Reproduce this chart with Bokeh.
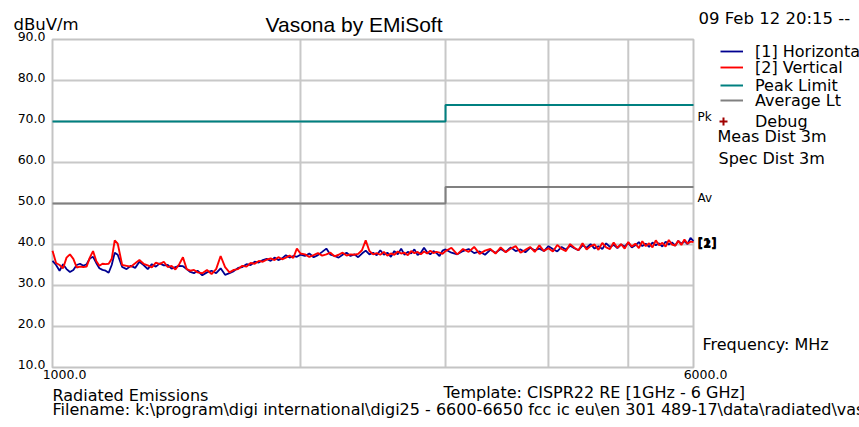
import math
from bokeh.plotting import figure
from bokeh.models import Range1d, Label, Legend, LegendItem
from bokeh.core.properties import value
from bokeh.embed import file_html
from bokeh.resources import INLINE

# ---------------- data ----------------
freq_low = [1000, 1010, 1020, 1030, 1040, 1050, 1060, 1070, 1080, 1090, 1100,
            1110, 1120, 1130, 1140, 1150, 1160, 1170, 1180, 1190, 1200,
            1215, 1230, 1245, 1260, 1275, 1290, 1305, 1320, 1335, 1350,
            1365, 1380, 1395, 1410, 1425, 1440, 1455, 1470, 1485, 1500,
            1520, 1540, 1560, 1580, 1600, 1620, 1640, 1660, 1680, 1700,
            1720, 1740, 1760, 1780, 1800, 1820, 1840, 1860, 1880, 1900,
            1920, 1940, 1960, 1980, 2000]
horiz_low = [36.0, 35.0, 33.6, 35.2, 34.0, 33.3, 33.8, 35.0, 35.3, 34.8, 35.2,
             36.6, 37.0, 35.5, 34.2, 33.8, 33.6, 33.1, 35.0, 38.0, 37.5,
             34.5, 34.0, 34.8, 34.3, 35.8, 35.0, 34.0, 35.2, 34.6, 35.4,
             34.9, 35.0, 34.1, 34.5, 34.8, 34.7, 34.0, 33.3, 33.0, 33.6,
             32.5, 33.2, 33.6, 33.0, 34.2, 32.6, 33.0, 33.5, 34.3, 34.5,
             35.2, 35.0, 35.8, 35.6, 36.2, 36.5, 36.0, 36.8, 36.2, 36.6,
             37.4, 36.8, 37.2, 37.0, 37.5]
vert_low = [38.5, 35.5, 35.0, 34.2, 36.8, 37.6, 36.5, 34.4, 34.6, 34.5, 34.6,
            36.8, 38.4, 36.0, 34.8, 35.3, 35.2, 35.3, 36.5, 41.0, 40.2,
            35.0, 34.8, 34.6, 35.4, 36.2, 35.3, 34.9, 34.4, 35.6, 35.2,
            35.8, 34.5, 34.8, 33.9, 35.2, 36.9, 34.0, 33.6, 33.8, 33.2,
            33.0, 33.8, 32.8, 34.0, 37.2, 34.5, 33.2, 33.8, 34.0, 34.8,
            34.6, 35.5, 35.3, 36.0, 35.8, 36.3, 36.6, 36.2, 36.9, 36.4,
            36.8, 37.3, 36.7, 39.0, 37.8]

freq_high = [2025, 2050, 2075, 2100, 2125, 2150, 2175, 2200, 2225, 2250,
             2275, 2300, 2325, 2350, 2375, 2400, 2425, 2450, 2475, 2500,
             2525, 2550, 2575, 2600, 2625, 2650, 2675, 2700, 2725, 2750,
             2775, 2800, 2825, 2850, 2875, 2900, 2925, 2950, 2975, 3000,
             3050, 3100, 3150, 3200, 3250, 3300, 3350, 3400, 3450, 3500,
             3550, 3600, 3650, 3700, 3750, 3800, 3850, 3900, 3950, 4000,
             4050, 4100, 4150, 4200, 4250, 4300, 4350, 4400, 4450, 4500,
             4550, 4600, 4650, 4700, 4750, 4800, 4850, 4900, 4950, 5000,
             5050, 5100, 5150, 5200, 5250, 5300, 5350, 5400, 5450, 5500,
             5550, 5600, 5650, 5700, 5750, 5800, 5850, 5900, 5950, 6000]
horiz_high = [37.2, 37.8, 36.9, 37.4, 38.2, 39.0, 37.5, 37.2, 36.8, 37.5,
              38.0, 37.2, 37.6, 36.9, 37.8, 38.5, 37.6, 38.0, 37.4, 38.6,
              37.5, 38.0, 37.0, 38.4, 37.6, 39.0, 37.5, 38.2, 37.8, 38.8,
              37.4, 38.0, 39.2, 38.1, 37.6, 38.4, 37.9, 37.2, 38.5, 38.8,
              38.0, 37.6, 38.4, 38.9, 37.9, 38.3, 37.5, 38.7, 38.0, 38.9,
              38.2, 39.3, 38.4, 38.8, 38.1, 39.2, 38.6, 39.0, 38.4, 39.6,
              38.9, 38.3, 39.4, 38.8, 39.7, 39.1, 38.6, 39.8, 39.2, 40.1,
              39.0, 39.6, 38.9, 40.3, 39.4, 39.9, 39.1, 40.0, 39.5, 40.4,
              39.3, 39.8, 40.6, 39.6, 40.2, 39.4, 40.5, 39.8, 40.3, 39.5,
              40.7, 40.0, 40.5, 39.7, 40.9, 40.2, 40.8, 40.1, 41.6, 40.8]
vert_high = [37.6, 37.0, 37.4, 37.9, 37.3, 37.6, 38.0, 37.1, 37.5, 38.0,
             37.3, 37.6, 37.5, 37.7, 38.6, 41.0, 38.4, 37.6, 37.9, 37.5,
             38.2, 37.3, 37.8, 37.5, 38.3, 37.8, 38.0, 37.4, 38.4, 37.9,
             38.2, 37.6, 38.3, 37.8, 38.5, 37.9, 38.2, 38.0, 37.7, 38.4,
             39.2, 37.6, 38.9, 38.2, 39.4, 37.7, 38.5, 38.9, 37.8, 39.3,
             38.1, 39.0, 39.6, 38.0, 38.7, 39.4, 38.2, 39.8, 38.4, 39.1,
             38.3, 39.9, 38.9, 38.4, 40.1, 39.2, 38.6, 40.3, 38.8, 39.6,
             40.0, 38.7, 40.4, 39.3, 38.9, 40.5, 39.2, 40.1, 39.0, 40.6,
             39.5, 40.2, 39.1, 40.8, 39.6, 40.3, 39.3, 41.0, 39.8, 40.4,
             39.5, 41.1, 40.0, 39.7, 40.9, 39.9, 41.2, 40.2, 40.7, 40.6]

freq_mhz = freq_low + freq_high
horizontal = horiz_low + horiz_high
vertical = vert_low + vert_high

limit_freq = [1000, 3000, 3000, 6000]
peak_limit = [70, 70, 74, 74]
average_limit = [50, 50, 54, 54]

y_ticks = [10, 20, 30, 40, 50, 60, 70, 80, 90]
y_tick_labels = ["10.0", "20.0", "30.0", "40.0", "50.0", "60.0", "70.0", "80.0", "90.0"]
x_ticks = [1000, 6000]
x_tick_labels = ["1000.0", "6000.0"]
x_grid = [2000, 3000, 4000, 5000]
y_grid = [20, 30, 40, 50, 60, 70, 80]

# ---------------- layout (pixels) ----------------
W, H = 859, 427
BOX_L, BOX_R, BOX_T, BOX_B = 52, 693, 39, 367
x_min, x_max = x_ticks[0], x_ticks[-1]
y_min, y_max = y_ticks[0], y_ticks[-1]
dec_px = (math.log10(x_max) - math.log10(x_min)) / (BOX_R - BOX_L)
u_px = (y_max - y_min) / (BOX_B - BOX_T)
x_start = 10 ** (math.log10(x_min) - BOX_L * dec_px)
x_end = 10 ** (math.log10(x_max) + (W - BOX_R) * dec_px)
y_start = y_min - (H - BOX_B) * u_px
y_end = y_max + BOX_T * u_px

FONT = "DejaVu Sans"
p = figure(width=W, height=H, output_backend="svg", toolbar_location=None,
           x_axis_type="log", x_axis_location=None, y_axis_location=None,
           x_range=Range1d(x_start, x_end), y_range=Range1d(y_start, y_end),
           min_border=0)
p.outline_line_color = None
p.xgrid.visible = False
p.ygrid.visible = False

GRID = "#c8c8c8"
p.segment(x0=x_grid, y0=[y_min] * len(x_grid), x1=x_grid, y1=[y_max] * len(x_grid),
          line_color=GRID, line_width=2)
p.segment(x0=[x_min] * len(y_grid), y0=y_grid, x1=[x_max] * len(y_grid), y1=y_grid,
          line_color=GRID, line_width=2)
p.quad(left=[x_min], right=[x_max], bottom=[y_min], top=[y_max],
       fill_color=None, line_color="#c4c4c4", line_width=2)

r_peak = p.line(limit_freq, peak_limit, line_color="#008080", line_width=2)
r_avg = p.line(limit_freq, average_limit, line_color="#808080", line_width=2)
r_h = p.line(freq_mhz, horizontal, line_color="#000090", line_width=1.8)
r_v = p.line(freq_mhz, vertical, line_color="#ff0000", line_width=1.9)
r_dbg = p.scatter(x=[x_min], y=[float("nan")], marker="cross", size=9,
                  line_color="#a00000", line_width=2)

# tick labels
p.text(x=[x_min] * len(y_ticks), y=y_ticks, text=y_tick_labels,
       text_font=value(FONT), text_font_size="12.5px", text_align="right",
       text_baseline="middle", x_offset=-7, y_offset=-3, text_color="black")
p.text(x=x_ticks, y=[y_min] * len(x_ticks), text=x_tick_labels,
       text_font=value(FONT), text_font_size="12.5px", text_align="center",
       text_baseline="top", x_offset=12, y_offset=2, text_color="black")

# limit tags and trace tags at the right end
p.text(x=[limit_freq[-1]], y=[peak_limit[-1]], text=["Pk"], text_font=value(FONT),
       text_font_size="12px", text_baseline="top", x_offset=4, y_offset=5)
p.text(x=[limit_freq[-1]], y=[average_limit[-1]], text=["Av"], text_font=value(FONT),
       text_font_size="12px", text_baseline="top", x_offset=4, y_offset=4)
p.text(x=[freq_mhz[-1], freq_mhz[-1]], y=[horizontal[-1], vertical[-1]],
       text=["[1]", "[2]"], text_font=value(FONT), text_font_size="12px",
       text_baseline="middle", x_offset=4, y_offset=2, text_font_style="bold")

# legend: one single-row legend per entry so that each row sits where the reference has it
legend_entries = [("[1] Horizontal", r_h), ("[2] Vertical", r_v), ("Peak Limit", r_peak),
                  ("Average Lt", r_avg), ("Debug", r_dbg)]
legend_rows_px = [51, 67, 85, 100, 121]   # row centres, pixels from the top
for (label, rend), row in zip(legend_entries, legend_rows_px):
    if label == "Debug":
        gx, gw, gh = 713, 20, 20
    else:
        gx, gw, gh = 720, 23, 16
    row_h = max(gh, 19)
    lg = Legend(items=[LegendItem(label=label, renderers=[rend])],
                location=(gx, H - row - row_h / 2), glyph_width=gw, glyph_height=gh,
                label_height=16, label_standoff=755 - gx - gw, spacing=0, padding=0,
                margin=0, border_line_color=None, background_fill_alpha=0,
                label_text_font=FONT, label_text_font_size="16px",
                label_text_color="black")
    p.add_layout(lg, "center")


def add_text(text, px, py, size="16px", font=FONT):
    # px, py: left / baseline position in canvas pixels from the top-left
    p.add_layout(Label(x=px, y=H - py, x_units="screen", y_units="screen", text=text,
                       text_font=font, text_font_size=size, text_color="black",
                       text_baseline="alphabetic", text_align="left"))


add_text("dBuV/m", 13, 24, "16.5px")
add_text("Vasona by EMiSoft", 265, 24, "21px", "Liberation Sans")
add_text("09 Feb 12 20:15 --", 698, 18, "16.5px")
add_text("Meas Dist 3m", 717, 136)
add_text("Spec Dist 3m", 718, 158)
add_text("Frequency: MHz", 702, 344)
add_text("Radiated Emissions", 52, 395)
add_text("Template: CISPR22 RE [1GHz - 6 GHz]", 443, 392)
add_text(r"Filename: k:\program\digi international\digi25 - 6600-6650 fcc ic eu\en 301 489-17\data\radiated\vasona.dat",
         52, 409)

open("out.html", "w").write(file_html(p, INLINE))
